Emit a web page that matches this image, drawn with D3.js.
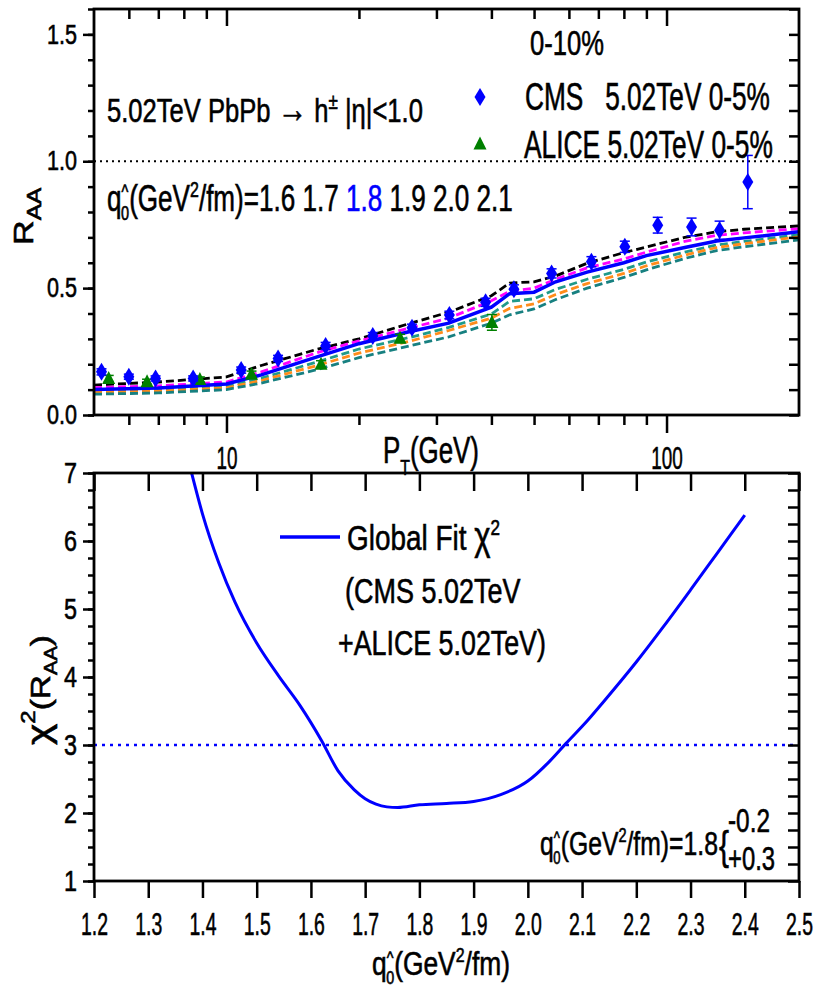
<!DOCTYPE html>
<html>
<head>
<meta charset="utf-8">
<script src="https://cdn.jsdelivr.net/npm/d3@7"></script>
<style>
  body { margin: 0; background: #fff; }
  text { font-family: "Liberation Sans Narrow", "Arial Narrow", "Liberation Sans", Arial, sans-serif; fill: #000; stroke: #000; stroke-width: 0.6px; }
</style>
</head>
<body>
<svg id="chart" width="814" height="996"></svg>
<script>
// ---- data ----
// top panel: R_AA vs pT
const cmsPt   = [5.2, 6.0, 6.9, 8.4, 10.8, 13.1, 16.8, 21.5, 26.4, 32.1, 38.8, 45, 54.8, 67.5, 80.4, 95.5, 114, 132, 153];
const cmsRaa  = [0.170, 0.151, 0.144, 0.144, 0.177, 0.223, 0.272, 0.311, 0.344, 0.394, 0.444, 0.496, 0.558, 0.604, 0.663, 0.748, 0.741, 0.728, 0.918];
const cmsErr  = [0.012, 0.010, 0.010, 0.010, 0.012, 0.012, 0.014, 0.014, 0.014, 0.015, 0.016, 0.017, 0.018, 0.020, 0.022, 0.031, 0.035, 0.036, 0.105];
const alicePt  = [5.4, 6.6, 8.7, 11.4, 16.4, 24.8, 40.1];
const aliceRaa = [0.144, 0.131, 0.140, 0.161, 0.200, 0.302, 0.365];
const aliceErr = [0.012, 0.010, 0.010, 0.012, 0.014, 0.016, 0.031];

// model curves for q0 = 1.6 ... 2.1
const modelPt = [5, 7, 10, 12, 16, 20, 26, 32, 40, 44, 50, 56, 66, 80, 90, 110, 130, 150, 200];
const raa16 = [0.118, 0.130, 0.150, 0.195, 0.258, 0.300, 0.360, 0.405, 0.470, 0.520, 0.525, 0.548, 0.598, 0.640, 0.662, 0.700, 0.722, 0.732, 0.745];
const raa17 = [0.108, 0.115, 0.130, 0.170, 0.245, 0.292, 0.342, 0.382, 0.450, 0.488, 0.500, 0.535, 0.580, 0.615, 0.642, 0.684, 0.708, 0.718, 0.734];
const raa18 = [0.100, 0.106, 0.122, 0.158, 0.228, 0.281, 0.328, 0.362, 0.425, 0.478, 0.484, 0.525, 0.563, 0.600, 0.628, 0.660, 0.686, 0.698, 0.722];
const raa19 = [0.094, 0.099, 0.113, 0.145, 0.208, 0.260, 0.305, 0.345, 0.398, 0.448, 0.458, 0.495, 0.535, 0.574, 0.603, 0.642, 0.670, 0.684, 0.710];
const raa20 = [0.089, 0.094, 0.107, 0.136, 0.194, 0.244, 0.290, 0.333, 0.382, 0.420, 0.438, 0.475, 0.518, 0.558, 0.588, 0.630, 0.660, 0.675, 0.702];
const raa21 = [0.082, 0.087, 0.100, 0.126, 0.178, 0.226, 0.272, 0.308, 0.362, 0.395, 0.418, 0.455, 0.500, 0.542, 0.572, 0.617, 0.648, 0.663, 0.690];

// bottom panel: chi^2 vs q0
const qhat = [1.38, 1.40, 1.43, 1.46, 1.50, 1.54, 1.58, 1.62, 1.65, 1.68, 1.70, 1.72, 1.74, 1.76, 1.80, 1.85, 1.90, 1.95, 2.00, 2.04, 2.07, 2.11, 2.14, 2.20, 2.25, 2.30, 2.35, 2.40];
const chi2 = [7.00, 6.40, 5.68, 5.10, 4.50, 4.02, 3.58, 3.06, 2.62, 2.34, 2.21, 2.13, 2.09, 2.08, 2.12, 2.14, 2.17, 2.27, 2.47, 2.76, 3.02, 3.36, 3.64, 4.22, 4.74, 5.28, 5.83, 6.38];

// ticks
const raaTicks = [0, 0.5, 1.0, 1.5];
const ptTicks = [10, 100];
const ptMinor = [6, 7, 8, 9, 20, 30, 40, 50, 60, 70, 80, 90];
const qTicks = [1.2, 1.3, 1.4, 1.5, 1.6, 1.7, 1.8, 1.9, 2.0, 2.1, 2.2, 2.3, 2.4, 2.5];
const chiTicks = [1, 2, 3, 4, 5, 6, 7];

const curves = [
  { vals: raa16, color: "#000000", dash: "8,4" },
  { vals: raa17, color: "#ff00ff", dash: "8,4" },
  { vals: raa19, color: "#1f9a8a", dash: "8,4" },
  { vals: raa20, color: "#ff8c1a", dash: "8,4" },
  { vals: raa21, color: "#178080", dash: "8,4" },
  { vals: raa18, color: "#0000ff", dash: null }
];

const svg = d3.select("#chart");
svg.append("rect").attr("width", 814).attr("height", 996).attr("fill", "#fff");

const x1 = d3.scaleLog().domain([5, 200]).range([94, 799]);
const y1 = d3.scaleLinear().domain([0, 1.6]).range([415, 9]);
const x2 = d3.scaleLinear().domain([1.2, 2.5]).range([94, 799]);
const y2 = d3.scaleLinear().domain([1, 7]).range([881, 473]);

const defs = svg.append("defs");
defs.append("clipPath").attr("id", "clipTop").append("rect").attr("x", 94).attr("y", 9).attr("width", 705).attr("height", 406);
defs.append("clipPath").attr("id", "clipBot").append("rect").attr("x", 94).attr("y", 473).attr("width", 705).attr("height", 408);

// text with tspans, squeezed horizontally to the width seen in the picture
function rich(x, y, parts, size, width, opt = {}) {
  const g = svg.append("g").attr("transform", `translate(${x},${y})` + (opt.rotate ? " rotate(-90)" : ""));
  const t = g.append("text").attr("font-size", size).style("white-space", "pre");
  for (const p of parts) {
    const s = t.append("tspan").text(p.t);
    if (p.dx) s.attr("dx", p.dx);
    if (p.dy) s.attr("dy", p.dy);
    if (p.s) s.attr("font-size", p.s);
    if (p.c) s.style("fill", p.c).style("stroke", p.c);
  }
  const bb = t.node().getBBox();
  const sx = width / bb.width;
  const off = opt.middle ? -(bb.x + bb.width / 2) * sx : -bb.x * sx;
  t.attr("transform", `translate(${off},0) scale(${sx},1)`);
  return t;
}

function axis(gen, tx, ty, size) {
  const a = svg.append("g").attr("transform", `translate(${tx},${ty})`).call(gen);
  a.attr("font-family", null).attr("font-size", size || 10);
  a.select(".domain").remove();
  a.selectAll("line").attr("stroke", "#000").attr("stroke-width", 2.5);
  return a;
}

function squeeze(a, sample, width) {
  const texts = a.selectAll("text");
  const node = texts.filter(function () { return this.textContent === sample; }).node();
  const sx = width / node.getBBox().width;
  texts.each(function () {
    const t = d3.select(this);
    const x = +t.attr("x") || 0;
    t.attr("x", x / sx).attr("transform", `scale(${sx},1)`).style("fill", "#000");
  });
}

// ---------- top panel ----------
const topG = svg.append("g").attr("clip-path", "url(#clipTop)");

topG.append("line")
  .attr("x1", x1(5)).attr("x2", x1(200)).attr("y1", y1(1)).attr("y2", y1(1))
  .attr("stroke", "#000").attr("stroke-width", 2).attr("stroke-dasharray", "2,4");

const line1 = d3.line().x((d, i) => x1(modelPt[i])).y(d => y1(d));
curves.forEach(c => {
  topG.append("path")
    .attr("d", line1(c.vals))
    .attr("fill", "none")
    .attr("stroke", c.color)
    .attr("stroke-width", c.dash ? 2.8 : 3.5)
    .attr("stroke-dasharray", c.dash);
});

const diamond = "M0,-9L5.5,0L0,9L-5.5,0Z";
const triangle = "M0,-7.5L6.5,5.5L-6.5,5.5Z";

// ALICE
alicePt.forEach((pt, i) => {
  const cx = x1(pt);
  const g = topG.append("g").attr("stroke", "#008000").attr("stroke-width", 1.5);
  g.append("line").attr("x1", cx).attr("x2", cx).attr("y1", y1(aliceRaa[i] - aliceErr[i])).attr("y2", y1(aliceRaa[i] + aliceErr[i]));
  [aliceRaa[i] - aliceErr[i], aliceRaa[i] + aliceErr[i]].forEach(v =>
    g.append("line").attr("x1", cx - 5).attr("x2", cx + 5).attr("y1", y1(v)).attr("y2", y1(v)));
  topG.append("path").attr("d", triangle).attr("transform", `translate(${cx},${y1(aliceRaa[i])})`).attr("fill", "#008000");
});

// CMS
cmsPt.forEach((pt, i) => {
  const cx = x1(pt);
  const g = topG.append("g").attr("stroke", "#0000ff").attr("stroke-width", 1.5);
  g.append("line").attr("x1", cx).attr("x2", cx).attr("y1", y1(cmsRaa[i] - cmsErr[i])).attr("y2", y1(cmsRaa[i] + cmsErr[i]));
  [cmsRaa[i] - cmsErr[i], cmsRaa[i] + cmsErr[i]].forEach(v =>
    g.append("line").attr("x1", cx - 5).attr("x2", cx + 5).attr("y1", y1(v)).attr("y2", y1(v)));
  topG.append("path").attr("d", diamond).attr("transform", `translate(${cx},${y1(cmsRaa[i])})`).attr("fill", "#0000ff");
});

// axes of top panel
const tl = axis(d3.axisLeft(y1).tickValues(raaTicks).tickFormat(d3.format(".1f")).tickSize(11).tickPadding(6), 94, 0, 27);
squeeze(tl, "1.5", 30);
axis(d3.axisLeft(y1).tickValues(d3.range(0, 1.61, 0.1)).tickFormat("").tickSize(6), 94, 0);
axis(d3.axisLeft(y1).tickValues(d3.range(0, 1.61, 0.1)).tickFormat("").tickSize(10), 799, 0);
axis(d3.axisBottom(x1).tickValues(ptTicks).tickFormat("").tickSize(17), 0, 9);
axis(d3.axisBottom(x1).tickValues(ptMinor).tickFormat("").tickSize(10), 0, 9);
const tb = axis(d3.axisBottom(x1).tickValues(ptTicks).tickFormat(d3.format("d")).tickSize(18).tickPadding(13), 0, 415, 32);
squeeze(tb, "10", 21);
axis(d3.axisBottom(x1).tickValues(ptMinor).tickFormat("").tickSize(10), 0, 415);

svg.append("rect").attr("x", 94).attr("y", 9).attr("width", 705).attr("height", 406)
  .attr("fill", "none").attr("stroke", "#000").attr("stroke-width", 2.8);

// texts of top panel
rich(107, 122, [{ t: "5.02TeV PbPb " }, { t: "→", s: 38 }, { t: " h" }, { t: "±", dy: -13, s: 22 }, { t: " |η|<1.0", dy: 13 }], 33, 316);
rich(107, 211, [
  { t: "q" }, { t: "^", dy: -12, s: 20 }, { t: "0", dx: -10, dy: 21, s: 20 },
  { t: "(GeV", dy: -9 }, { t: "2", dy: -14, s: 22 }, { t: "/fm)=1.6 1.7 ", dy: 14 },
  { t: "1.8", c: "#0000ff" }, { t: " 1.9 2.0 2.1" }
], 36, 406);
rich(530, 55, [{ t: "0-10%" }], 36, 74);
rich(525, 110, [{ t: "CMS   5.02TeV 0-5%" }], 38, 245);
rich(524, 158, [{ t: "ALICE 5.02TeV 0-5%" }], 38, 249);
svg.append("path").attr("d", diamond).attr("transform", "translate(480,97)").attr("fill", "#0000ff");
svg.append("path").attr("d", triangle).attr("transform", "translate(480,144)").attr("fill", "#008000");

rich(33, 216, [{ t: "R" }, { t: "AA", dy: 8, s: 20 }], 28, 58, { rotate: true, middle: true });
rich(383, 463, [{ t: "P" }, { t: "T", dy: 12, s: 22 }, { t: "(GeV)", dy: -12 }], 36, 96);

// ---------- bottom panel ----------
const botG = svg.append("g").attr("clip-path", "url(#clipBot)");

botG.append("line")
  .attr("x1", x2(1.2)).attr("x2", x2(2.5)).attr("y1", y2(3)).attr("y2", y2(3))
  .attr("stroke", "#0000ff").attr("stroke-width", 2.5).attr("stroke-dasharray", "3,5");

const line2 = d3.line().x((d, i) => x2(qhat[i])).y(d => y2(d)).curve(d3.curveMonotoneX);
botG.append("path")
  .attr("d", line2(chi2))
  .attr("fill", "none").attr("stroke", "#0000ff").attr("stroke-width", 3);

const bl = axis(d3.axisLeft(y2).tickValues(chiTicks).tickFormat(d3.format("d")).tickSize(11).tickPadding(6), 94, 0, 30);
squeeze(bl, "7", 13);
axis(d3.axisLeft(y2).tickValues(d3.range(1, 7.01, 0.25)).tickFormat("").tickSize(6), 94, 0);
axis(d3.axisLeft(y2).tickValues(d3.range(1, 7.01, 0.25)).tickFormat("").tickSize(11), 799, 0);
const bx = axis(d3.axisBottom(x2).tickValues(qTicks).tickFormat(d3.format(".1f")).tickSize(17).tickPadding(14), 0, 881, 32);
squeeze(bx, "1.2", 27);
axis(d3.axisBottom(x2).tickValues(qTicks).tickFormat("").tickSize(18), 0, 473);

svg.append("rect").attr("x", 94).attr("y", 473).attr("width", 705).attr("height", 408)
  .attr("fill", "none").attr("stroke", "#000").attr("stroke-width", 2.8);

// legend of bottom panel
svg.append("line").attr("x1", 280).attr("x2", 340).attr("y1", 537).attr("y2", 537)
  .attr("stroke", "#0000ff").attr("stroke-width", 3.5);
rich(347, 550, [{ t: "Global Fit " }, { t: "χ", s: 40 }, { t: "2", dy: -15, s: 22 }], 36, 153);
rich(345, 603, [{ t: "(CMS 5.02TeV" }], 35, 176);
rich(338, 655, [{ t: "+ALICE 5.02TeV)" }], 35, 208);

const qParts = [
  { t: "q" }, { t: "^", dy: -11, s: 18 }, { t: "0", dx: -9, dy: 20, s: 18 },
  { t: "(GeV", dy: -9 }, { t: "2", dy: -13, s: 20 }, { t: "/fm)", dy: 13 }
];
rich(540, 855, qParts.concat([{ t: "=1.8" }]), 34, 178);
rich(719, 860, [{ t: "{" }], 40, 10);
rich(728, 832, [{ t: "-0.2" }], 33, 42);
rich(728, 870, [{ t: "+0.3" }], 33, 47);

rich(372, 975, qParts, 33, 138);
rich(50, 690, [
  { t: "χ", s: 34 }, { t: "2", dy: -15, s: 20 }, { t: "(R", dy: 15 }, { t: "AA", dy: 7, s: 18 }, { t: ")", dy: -7 }
], 28, 110, { rotate: true, middle: true });
</script>
</body>
</html>
